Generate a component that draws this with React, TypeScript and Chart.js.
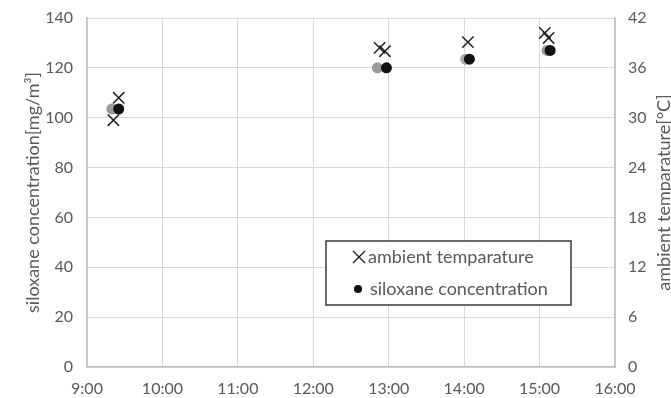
import React, { useEffect, useRef } from "react";
import { Chart, registerables } from "chart.js";

Chart.register(...registerables);

// Time of day in hours (9 = 9:00)
const tempTimes = [9.35, 9.42, 12.88, 12.95, 14.05, 15.07, 15.12];
const tempValues = [29.7, 32.4, 38.4, 38.0, 39.1, 40.2, 39.6];

const concTimes = [9.33, 9.42, 12.85, 12.97, 14.02, 14.07, 15.1, 15.14];
const concValues = [103.5, 103.5, 120, 120, 123.5, 123.5, 127, 127];
const concShade = ["#9a9a9a", "#111", "#9a9a9a", "#111", "#a8a8a8", "#111", "#9a9a9a", "#111"];

const xTicks = [9, 10, 11, 12, 13, 14, 15, 16];
const legendLabels = ["ambient temparature", "siloxane concentration"];
const leftTitle = "siloxane concentration[mg/m\u00B3]";
const rightTitle = "ambient temparature[\u00B0C]";

const FONT = "Lato, 'Open Sans', sans-serif";
const TXT = "#595959";

const legendPlugin = {
  id: "boxLegend",
  afterDraw(chart: any) {
    const { ctx, chartArea } = chart;
    // right-axis title, reading bottom to top
    ctx.save();
    ctx.fillStyle = TXT;
    ctx.font = "18px " + FONT;
    ctx.textAlign = "center";
    ctx.textBaseline = "middle";
    ctx.translate(chartArea.right + 49, (chartArea.top + chartArea.bottom) / 2);
    ctx.rotate(-Math.PI / 2);
    ctx.fillText(rightTitle, 0, 0);
    ctx.restore();

    const left = chartArea.left + 239;
    const top = chartArea.top + 223;
    const w = 245;
    const h = 64;
    ctx.save();
    ctx.fillStyle = "#fff";
    ctx.fillRect(left, top, w, h);
    ctx.strokeStyle = "#3a3a3a";
    ctx.lineWidth = 1.5;
    ctx.strokeRect(left, top, w, h);
    // X symbol
    const sx = left + 33;
    const y1 = top + 16;
    ctx.strokeStyle = "#222";
    ctx.lineWidth = 1.4;
    ctx.beginPath();
    ctx.moveTo(sx - 6, y1 - 6);
    ctx.lineTo(sx + 6, y1 + 6);
    ctx.moveTo(sx + 6, y1 - 6);
    ctx.lineTo(sx - 6, y1 + 6);
    ctx.stroke();
    // dot
    const y2 = top + 48;
    ctx.fillStyle = "#111";
    ctx.beginPath();
    ctx.arc(sx - 1, y2, 4, 0, Math.PI * 2);
    ctx.fill();
    ctx.fillStyle = TXT;
    ctx.font = "18px " + FONT;
    ctx.textBaseline = "middle";
    ctx.textAlign = "left";
    ctx.fillText(legendLabels[0], sx + 9, y1);
    ctx.fillText(legendLabels[1], sx + 11, y2);
    ctx.restore();
  },
};

export default function App() {
  const ref = useRef<HTMLCanvasElement>(null);
  useEffect(() => {
    document.body.style.margin = "0";
    const chart = new Chart(ref.current!, {
      type: "scatter",
      data: {
        datasets: [
          {
            label: legendLabels[1],
            data: concTimes.map((t, i) => ({ x: t, y: concValues[i] })),
            yAxisID: "y",
            pointStyle: "circle",
            pointRadius: 5.5,
            pointBackgroundColor: concShade,
            pointBorderColor: concShade,
            borderWidth: 0,
          },
          {
            label: legendLabels[0],
            data: tempTimes.map((t, i) => ({ x: t, y: tempValues[i] })),
            yAxisID: "y1",
            pointStyle: "crossRot",
            pointRadius: 8,
            pointBorderColor: "#222",
            pointBorderWidth: 1.5,
          },
        ],
      },
      options: {
        animation: false,
        responsive: false,
        layout: { padding: { left: 18, top: 18, right: 0, bottom: 0 } },
        plugins: { legend: { display: false }, tooltip: { enabled: false } },
        scales: {
          x: {
            type: "linear",
            min: 9,
            max: 16,
            afterBuildTicks: (s: any) => {
              s.ticks = xTicks.map((v) => ({ value: v }));
            },
            afterFit: (s: any) => {
              s.height = 31;
              s.paddingLeft = 0;
              s.paddingRight = 0;
            },
            ticks: {
              callback: (v: any) => `${v}:00`,
              color: TXT,
              font: { family: FONT, size: 16 },
              padding: 12,
              maxRotation: 0,
            },
            grid: { color: "#d9d9d9", drawTicks: false, lineWidth: 1 },
            border: { color: "#bfbfbf", width: 1.5 },
          },
          y: {
            position: "left",
            min: 0,
            max: 140,
            ticks: {
              stepSize: 20,
              color: TXT,
              font: { family: FONT, size: 16 },
              padding: 14,
            },
            afterFit: (s: any) => {
              s.width = 69;
              s.paddingTop = 0;
              s.paddingBottom = 0;
            },
            grid: { color: "#d9d9d9", drawTicks: false },
            border: { color: "#bfbfbf", width: 1.5 },
            title: {
              display: true,
              text: leftTitle,
              color: TXT,
              font: { family: FONT, size: 18 },
              padding: 4,
            },
          },
          y1: {
            position: "right",
            min: 0,
            max: 42,
            ticks: {
              stepSize: 6,
              color: TXT,
              font: { family: FONT, size: 16 },
              padding: 13,
            },
            afterFit: (s: any) => {
              s.width = 56;
              s.paddingTop = 0;
              s.paddingBottom = 0;
            },
            grid: { drawOnChartArea: false, drawTicks: false },
            border: { color: "#bfbfbf", width: 1.5 },
          },
        },
      },
      plugins: [legendPlugin],
    } as any);
    return () => chart.destroy();
  }, []);
  return (
    <div style={{ width: 671, height: 398, background: "#fff" }}>
      <canvas ref={ref} width={671} height={398} />
    </div>
  );
}
